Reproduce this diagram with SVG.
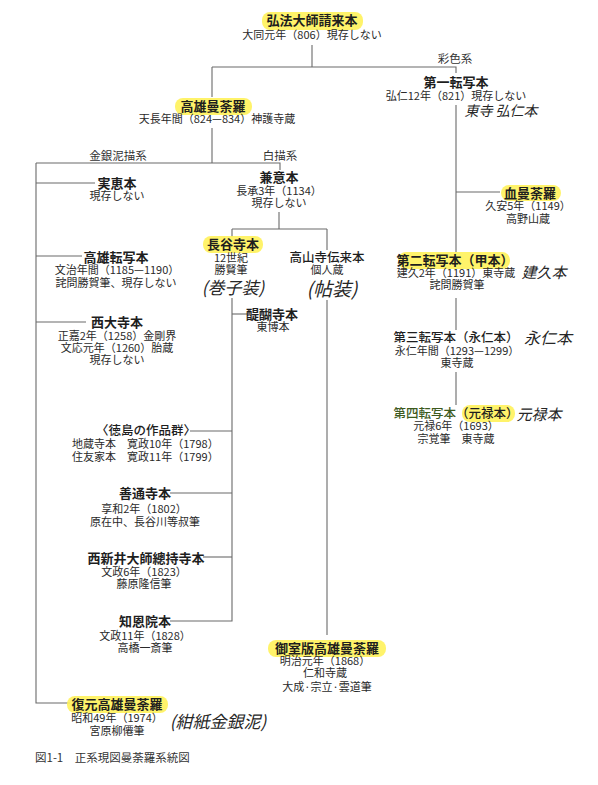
<svg xmlns="http://www.w3.org/2000/svg" width="598" height="785" viewBox="0 0 598 785">
<style>
text{font-family:"Noto Sans CJK JP","Noto Sans CJK SC",sans-serif;text-anchor:middle;fill:#1e1e1e}
.t{font-size:13px;font-weight:700}
.m{font-size:12.5px;font-weight:500}
.s{font-size:11px;font-weight:400;fill:#2a2a2a}
.l{font-size:11.5px;font-weight:400;fill:#333}
.h{font-weight:400;fill:#262626;font-style:italic}
.hl{fill:#fff25a;opacity:0.9}
.c path{stroke:#6a6a6a;stroke-width:1.1;fill:none}
</style>
<rect width="598" height="785" fill="#fff"/>
<g class="c" id="connectors">
<path d="M312,45V67"/>
<path d="M212,67H456V73"/>
<path d="M212,67V97"/>
<path d="M456,105V252"/>
<path d="M456,192H500"/>
<path d="M456,298V330"/>
<path d="M456,372V405"/>
<path d="M212,128V163"/>
<path d="M36,163H280V170"/>
<path d="M36,163V703H70"/>
<path d="M36,183H95"/>
<path d="M36,256H82"/>
<path d="M36,322H86"/>
<path d="M279,212V229"/>
<path d="M232,229H327"/>
<path d="M232,229V237"/>
<path d="M327,229V250"/>
<path d="M232,298V621H170"/>
<path d="M232,314H248"/>
<path d="M190,431H232"/>
<path d="M170,493H232"/>
<path d="M203,557H232"/>
<path d="M327,300V635"/>
</g>
<g id="labels">
<text class="l" x="455" y="63">彩色系</text>
<text class="l" x="118" y="160">金銀泥描系</text>
<text class="l" x="280" y="160">白描系</text>
</g>
<g id="n1">
<rect class="hl" x="262" y="12" width="101" height="18" rx="8"/>
<text class="t" x="312" y="25">弘法大師請来本<tspan class="s" x="312" y="39">大同元年（806）現存しない</tspan></text>
</g>
<g id="n2">
<rect class="hl" x="175" y="98" width="77" height="17" rx="8"/>
<text class="t" x="213" y="111">高雄曼荼羅<tspan class="s" x="217" y="123">天長年間（824—834）神護寺蔵</tspan></text>
</g>
<g id="n3">
<text class="t" x="456" y="87">第一転写本<tspan class="s" x="456" y="100">弘仁12年（821）現存しない</tspan><tspan class="h" x="501" y="116" font-size="14">東寺 弘仁本</tspan></text>
</g>
<g id="n4">
<text class="t" x="117" y="188">実恵本<tspan class="s" x="117" y="200">現存しない</tspan></text>
</g>
<g id="n5">
<text class="t" x="116" y="262">高雄転写本<tspan class="s" x="117" y="274">文治年間（1185—1190）</tspan><tspan class="s" x="116" y="287">詫問勝賀筆、現存しない</tspan></text>
</g>
<g id="n6">
<text class="t" x="117" y="327">西大寺本<tspan class="s" x="117" y="340">正嘉2年（1258）金剛界</tspan><tspan class="s" x="117" y="352">文応元年（1260）胎蔵</tspan><tspan class="s" x="117" y="364">現存しない</tspan></text>
</g>
<g id="n7">
<text class="t" x="279" y="182">兼意本<tspan class="s" x="279" y="195">長承3年（1134）</tspan><tspan class="s" x="279" y="207">現存しない</tspan></text>
</g>
<g id="n8">
<rect class="hl" x="203" y="236" width="60" height="17" rx="8"/>
<text class="t" x="233" y="249">長谷寺本<tspan class="s" x="231" y="262">12世紀</tspan><tspan class="s" x="231" y="274">勝賢筆</tspan><tspan class="h" x="233" y="294" font-size="17">(巻子装)</tspan></text>
</g>
<g id="n9">
<text class="m" x="327" y="262">高山寺伝来本<tspan class="s" x="327" y="274">個人蔵</tspan><tspan class="h" x="332" y="296" font-size="19">(帖装)</tspan></text>
</g>
<g id="n10">
<text class="t" x="272" y="319" font-size="12.5">醍醐寺本<tspan class="s" x="273" y="331">東博本</tspan></text>
</g>
<g id="n11">
<rect class="hl" x="501" y="185" width="60" height="16" rx="8"/>
<text class="t" x="530" y="198">血曼荼羅<tspan class="s" x="528" y="210">久安5年（1149）</tspan><tspan class="s" x="528" y="223">高野山蔵</tspan></text>
</g>
<g id="n12">
<rect class="hl" x="398" y="252" width="112" height="17" rx="8"/>
<text class="t" x="455" y="265" font-size="12.5">第二転写本（甲本）<tspan class="s" x="456" y="277">建久2年（1191）東寺蔵</tspan><tspan class="s" x="457" y="289">詫問勝賀筆</tspan><tspan class="h" x="544" y="278" font-size="15">建久本</tspan></text>
</g>
<g id="n13">
<text class="m" x="456" y="342">第三転写本（永仁本）<tspan class="s" x="457" y="355">永仁年間（1293—1299）</tspan><tspan class="s" x="457" y="367">東寺蔵</tspan><tspan class="h" x="548" y="344" font-size="16">永仁本</tspan></text>
</g>
<g id="n14">
<rect class="hl" x="462" y="405" width="53" height="17" rx="8"/>
<text class="m" x="456" y="418"><tspan fill="#3d5a1e">第四転写本</tspan>（元禄本）<tspan class="s" x="456" y="430">元禄6年（1693）</tspan><tspan class="s" x="456" y="443">宗覚筆　東寺蔵</tspan><tspan class="h" x="539" y="420" font-size="15">元禄本</tspan></text>
</g>
<g id="n15">
<text class="m" x="146" y="435" font-size="12">〈徳島の作品群〉<tspan class="s" x="72" y="448" style="text-anchor:start">地蔵寺本　寛政10年（1798）</tspan><tspan class="s" x="72" y="461" style="text-anchor:start">住友家本　寛政11年（1799）</tspan></text>
</g>
<g id="n16">
<text class="t" x="145" y="498" font-size="12">善通寺本<tspan class="s" x="144" y="513">享和2年（1802）</tspan><tspan class="s" x="145" y="526">原在中、長谷川等叔筆</tspan></text>
</g>
<g id="n17">
<text class="t" x="146" y="563" font-size="12">西新井大師總持寺本<tspan class="s" x="144" y="576">文政6年（1823）</tspan><tspan class="s" x="144" y="588">藤原隆信筆</tspan></text>
</g>
<g id="n18">
<text class="t" x="145" y="626" font-size="12">知恩院本<tspan class="s" x="145" y="640">文政11年（1828）</tspan><tspan class="s" x="145" y="652">高橋一斎筆</tspan></text>
</g>
<g id="n19">
<rect class="hl" x="268" y="640" width="118" height="17" rx="8"/>
<text class="t" x="327" y="653">御室版高雄曼荼羅<tspan class="s" x="325" y="665">明治元年（1868）</tspan><tspan class="s" x="325" y="677">仁和寺蔵</tspan><tspan class="s" x="327" y="691">大成·宗立·雲道筆</tspan></text>
</g>
<g id="n20">
<rect class="hl" x="67" y="696" width="101" height="17" rx="8"/>
<text class="t" x="117" y="709">復元高雄曼荼羅<tspan class="s" x="117" y="722">昭和49年（1974）</tspan><tspan class="s" x="117" y="735">宮原柳僊筆</tspan><tspan class="h" x="218" y="728" font-size="17">(紺紙金銀泥)</tspan></text>
</g>
<g id="caption">
<text class="l" x="35" y="762" style="text-anchor:start;font-size:11.5px">図1-1　正系現図曼荼羅系統図</text>
</g>
</svg>
